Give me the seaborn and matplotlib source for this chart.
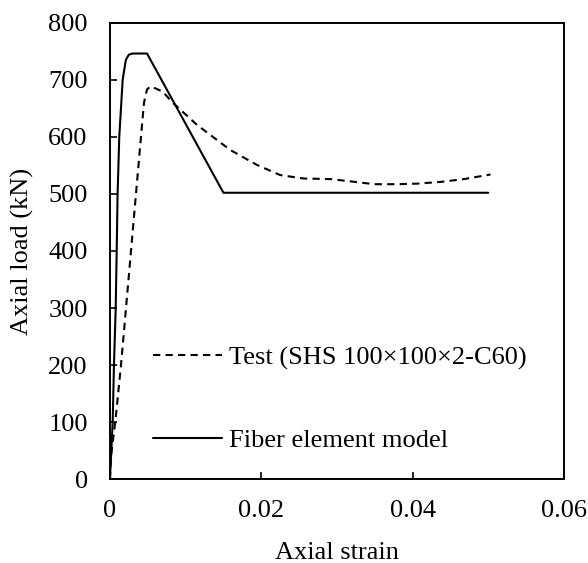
import numpy as np
import pandas as pd
import matplotlib
matplotlib.use("Agg")
import matplotlib.pyplot as plt
import seaborn as sns

# ---- data ----
fiber_strain = [0, 0.00036, 0.00053, 0.00076, 0.00089, 0.00101, 0.00123, 0.00168,
                0.0021, 0.0025, 0.0030, 0.0049, 0.015, 0.05]
fiber_load = [0, 100, 200, 300, 400, 500, 600, 700, 735, 744, 746, 746, 502, 502]

test_strain = [0, 0.00013, 0.0007, 0.00146, 0.00212, 0.00278, 0.00344, 0.0041,
               0.0045, 0.0049, 0.0053, 0.0060, 0.0070, 0.0082, 0.0115, 0.0159,
               0.0194, 0.0225, 0.0256, 0.0291, 0.0318, 0.0349, 0.0380, 0.0406,
               0.0437, 0.0468, 0.0503]
test_load = [0, 40, 100, 200, 300, 400, 500, 600, 660, 683, 688, 685, 679, 661,
             621, 577, 551, 533, 527, 526, 522, 517, 517, 518, 521, 526, 534]

x_ticks = [0, 0.02, 0.04, 0.06]
x_tick_labels = ["0", "0.02", "0.04", "0.06"]
y_ticks = [0, 100, 200, 300, 400, 500, 600, 700, 800]

test_label = "Test (SHS 100\u00d7100\u00d72-C60)"
fiber_label = "Fiber element model"

sns.set_style("ticks")
plt.rcParams["font.family"] = ["Liberation Serif", "DejaVu Serif"]
plt.rcParams["text.color"] = "black"
plt.rcParams["axes.labelcolor"] = "black"

FS = 19
fig = plt.figure(figsize=(5.88, 5.63), dpi=100)
ax = fig.add_axes([0.187, 0.1487, 0.772, 0.811])

df_test = pd.DataFrame({"strain": test_strain, "load": test_load})
df_fiber = pd.DataFrame({"strain": fiber_strain, "load": fiber_load})

sns.lineplot(data=df_test, x="strain", y="load", sort=False, estimator=None,
             color="black", linewidth=1.5, linestyle=(0, (3.5, 2.5)),
             label=test_label, ax=ax)
sns.lineplot(data=df_fiber, x="strain", y="load", sort=False, estimator=None,
             color="black", linewidth=1.5, label=fiber_label, ax=ax)

ax.set_xlim(0, 0.06)
ax.set_ylim(0, 800)
ax.set_xticks(x_ticks)
ax.set_xticklabels(x_tick_labels)
ax.set_yticks(y_ticks)

for s in ax.spines.values():
    s.set_visible(True)
    s.set_linewidth(1.4)
    s.set_color("black")

ax.tick_params(axis="both", direction="in", length=5, width=1.2,
               labelsize=FS, colors="black", labelcolor="black")
ax.tick_params(axis="y", pad=16)
ax.tick_params(axis="x", pad=15)

ax.set_xlabel("Axial strain", fontsize=FS, labelpad=14, color="black")
ax.set_ylabel("Axial load (kN)", fontsize=FS, labelpad=10, color="black")

leg = ax.legend(loc="center left", bbox_to_anchor=(0.095, 0.176),
                frameon=False, fontsize=FS, handlelength=2.6,
                handletextpad=0.27, labelspacing=2.23,
                borderpad=0, borderaxespad=0, labelcolor="black")

fig.savefig("out.png", dpi=100)
